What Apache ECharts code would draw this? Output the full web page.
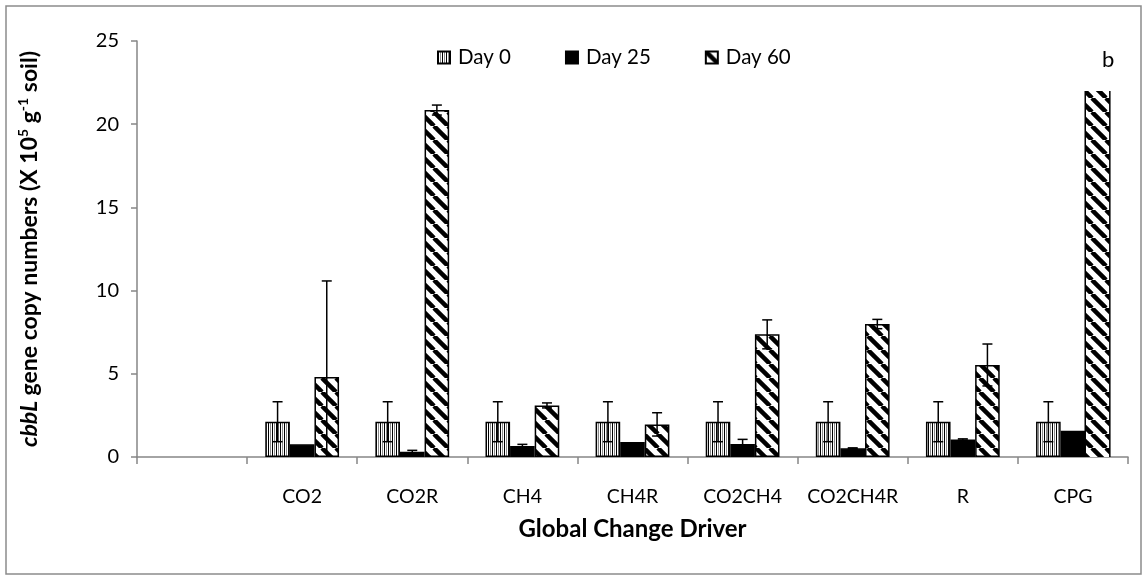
<!DOCTYPE html>
<html>
<head>
<meta charset="utf-8">
<script src="https://cdn.jsdelivr.net/npm/echarts@6/dist/echarts.min.js"></script>
<style>
  html, body { margin: 0; padding: 0; background: #fff; }
  #chart { width: 1147px; height: 580px; }
</style>
</head>
<body>
<div id="chart"></div>
<script>
// cbbL gene copy numbers by global change driver and sampling day
const categories = ['', 'CO2', 'CO2R', 'CH4', 'CH4R', 'CO2CH4', 'CO2CH4R', 'R', 'CPG'];
const seriesNames = ['Day 0', 'Day 25', 'Day 60'];
const day0  = [null, 2.12, 2.12, 2.12, 2.12, 2.12, 2.12, 2.12, 2.12];
const day25 = [null, 0.76, 0.32, 0.66, 0.90, 0.78, 0.52, 1.05, 1.58];
const day60 = [null, 4.81, 20.85, 3.10, 1.96, 7.37, 7.99, 5.53, 22.0];
const err0  = [null, 1.2, 1.2, 1.2, 1.2, 1.2, 1.2, 1.2, 1.2];
const err25 = [null, 0, 0.08, 0.10, 0, 0.28, 0.03, 0.04, 0];
const err60 = [null, 5.77, 0.30, 0.15, 0.70, 0.87, 0.28, 1.26, 0];
// bars that run past the drawn range (no top edge)
const openTop60 = [false, false, false, false, false, false, false, false, true];
const yTicks = { min: 0, max: 25, interval: 5 };

const FONT = 'Lato';
const AXIS_GREY = '#868686';
const CAT_GAP = 0.33;

function makePattern(w, h, draw) {
  const c = document.createElement('canvas');
  c.width = w; c.height = h;
  const ctx = c.getContext('2d');
  ctx.fillStyle = '#fff';
  ctx.fillRect(0, 0, w, h);
  draw(ctx, w, h);
  return { image: c, repeat: 'repeat' };
}
// vertical stripes
const stripePattern = makePattern(4, 4, (ctx) => {
  ctx.fillStyle = '#000'; ctx.fillRect(0, 0, 1, 4);
  ctx.fillStyle = '#8a8a8a'; ctx.fillRect(2, 0, 1, 4);
});
// wide downward diagonal
const diagPattern = makePattern(14, 14, (ctx, s) => {
  ctx.strokeStyle = '#000';
  ctx.lineWidth = 4.5;
  for (const k of [-s, 0, s]) {
    ctx.beginPath();
    ctx.moveTo(k, 0);
    ctx.lineTo(k + s, s);
    ctx.stroke();
  }
});

const barValues = [day0, day25, day60];
const barErrors = [err0, err25, err60];
const fills = [stripePattern, '#000', diagPattern];

function barCenterX(api, catIndex, sIndex) {
  const w = api.size([1, 0])[0];
  const group = w * (1 - CAT_GAP);
  const bw = group / 3;
  const cx = api.coord([catIndex, 0])[0];
  return { x: cx - group / 2 + bw * (sIndex + 0.5), bw: bw };
}

const barSeries = seriesNames.map((name, s) => ({
  name: name,
  type: 'bar',
  barGap: '0%',
  barCategoryGap: (CAT_GAP * 100) + '%',
  z: 2,
  itemStyle: { color: fills[s], borderColor: '#000', borderWidth: 1.5 },
  emphasis: { disabled: true },
  data: barValues[s].map((v, i) =>
    (s === 2 && openTop60[i]) ? { value: v, itemStyle: { borderWidth: 0 } } : v)
}));

// error bars: one custom item per bar
const errData = [];
for (let s = 0; s < 3; s++) {
  for (let i = 0; i < categories.length; i++) {
    if (barValues[s][i] != null && barErrors[s][i]) {
      errData.push([i, barValues[s][i], barErrors[s][i], s]);
    }
  }
}
const errorSeries = {
  type: 'custom',
  name: 'err',
  z: 5,
  silent: true,
  data: errData,
  renderItem: function (params, api) {
    const i = api.value(0), v = api.value(1), e = api.value(2), s = api.value(3);
    const pos = barCenterX(api, i, s);
    const hiY = api.coord([i, v + e])[1];
    const loVal = Math.max(0, v - e);
    const loY = api.coord([i, loVal])[1];
    const cap = 5;
    const style = { stroke: '#000', lineWidth: 1.5 };
    const kids = [
      { type: 'line', shape: { x1: pos.x, y1: hiY, x2: pos.x, y2: loY }, style: style },
      { type: 'line', shape: { x1: pos.x - cap, y1: hiY, x2: pos.x + cap, y2: hiY }, style: style }
    ];
    if (v - e > 0) {
      kids.push({ type: 'line', shape: { x1: pos.x - cap, y1: loY, x2: pos.x + cap, y2: loY }, style: style });
    }
    return { type: 'group', children: kids };
  }
};

// side edges for bars drawn without a top edge
const openData = [];
openTop60.forEach((f, i) => { if (f) openData.push([i, day60[i], 2]); });
const openSeries = {
  type: 'custom',
  name: 'open',
  z: 4,
  silent: true,
  data: openData,
  renderItem: function (params, api) {
    const i = api.value(0), v = api.value(1), s = api.value(2);
    const pos = barCenterX(api, i, s);
    const top = api.coord([i, v])[1];
    const bot = api.coord([i, 0])[1];
    const l = pos.x - pos.bw / 2, r = pos.x + pos.bw / 2;
    const style = { stroke: '#000', lineWidth: 1.5 };
    return { type: 'group', children: [
      { type: 'line', shape: { x1: l, y1: top, x2: l, y2: bot }, style: style },
      { type: 'line', shape: { x1: r, y1: top, x2: r, y2: bot }, style: style }
    ]};
  }
};

const chart = echarts.init(document.getElementById('chart'), null, { renderer: 'canvas' });
chart.setOption({
  animation: false,
  backgroundColor: '#fff',
  textStyle: { fontFamily: FONT },
  grid: { left: 137, right: 19, top: 41, bottom: 123, containLabel: false },
  legend: {
    data: seriesNames,
    left: 432,
    top: 42,
    itemWidth: 12,
    itemHeight: 12,
    itemGap: 54,
    icon: 'rect',
    textStyle: { fontFamily: FONT, fontSize: 20.5, color: '#000', padding: [0, 0, 0, 3] }
  },
  xAxis: {
    type: 'category',
    data: categories,
    boundaryGap: true,
    name: 'Global Change Driver',
    nameLocation: 'middle',
    nameGap: 60,
    nameTextStyle: { fontFamily: FONT, fontSize: 24, fontWeight: 'bold', color: '#000' },
    axisLine: { lineStyle: { color: AXIS_GREY, width: 1.5 } },
    axisTick: { show: true, length: 7, lineStyle: { color: AXIS_GREY, width: 1.5 } },
    axisLabel: { interval: 0, hideOverlap: false, margin: 30, fontFamily: FONT, fontSize: 19.5, color: '#000' },
    splitLine: { show: false }
  },
  yAxis: {
    type: 'value',
    min: yTicks.min,
    max: yTicks.max,
    interval: yTicks.interval,
    name: '{i|cbbL} gene copy numbers (X 10{s|5} g{s|-1} soil)',
    nameLocation: 'middle',
    nameRotate: 90,
    nameGap: 94,
    nameTextStyle: {
      fontFamily: FONT, fontSize: 23, fontWeight: 'bold', color: '#000',
      rich: {
        i: { fontFamily: FONT, fontSize: 23, fontWeight: 'bold', fontStyle: 'italic', color: '#000' },
        s: { fontFamily: FONT, fontSize: 14, fontWeight: 'bold', color: '#000', verticalAlign: 'top', lineHeight: 27 }
      }
    },
    axisLine: { show: true, lineStyle: { color: AXIS_GREY, width: 1.5 } },
    axisTick: { show: true, length: 6, lineStyle: { color: AXIS_GREY, width: 1.5 } },
    axisLabel: { margin: 18, fontFamily: FONT, fontSize: 20, color: '#000' },
    splitLine: { show: false }
  },
  graphic: [
    { type: 'rect', silent: true, z: -1,
      shape: { x: 6, y: 6, width: 1135, height: 568 },
      style: { fill: 'none', stroke: '#8c8c8c', lineWidth: 1.5 } },
    { type: 'text', left: 1102, top: 49,
      style: { text: 'b', fontFamily: FONT, fontSize: 22, fill: '#000' } }
  ],
  series: barSeries.concat([openSeries, errorSeries])
});
</script>
</body>
</html>
